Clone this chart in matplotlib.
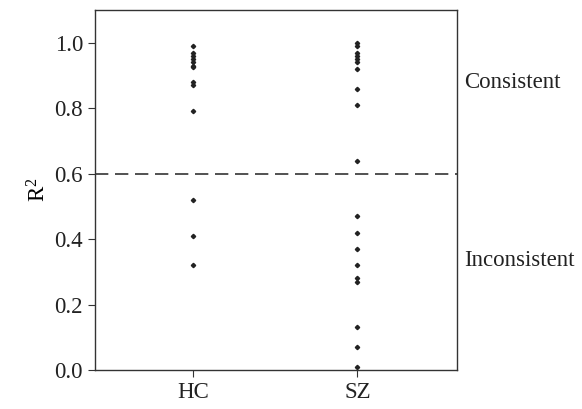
import matplotlib
matplotlib.use("Agg")
import matplotlib.pyplot as plt

categories = ["HC", "SZ"]
hc_values = [0.99, 0.97, 0.96, 0.95, 0.94, 0.93, 0.925, 0.88, 0.87, 0.79, 0.52, 0.41, 0.32]
sz_values = [1.0, 0.99, 0.97, 0.96, 0.95, 0.94, 0.92, 0.86, 0.81, 0.64,
             0.47, 0.42, 0.37, 0.32, 0.28, 0.27, 0.13, 0.07, 0.01]
threshold = 0.6
yticks = [0.0, 0.2, 0.4, 0.6, 0.8, 1.0]

plt.rcParams['font.family'] = ['Liberation Serif', 'DejaVu Serif']
plt.rcParams['mathtext.fontset'] = 'custom'
plt.rcParams['mathtext.rm'] = 'Liberation Serif'
plt.rcParams['mathtext.it'] = 'Liberation Serif:italic'
fig = plt.figure(figsize=(5.82, 4.09), dpi=100)
ax = fig.add_axes([0.163, 0.0954, 0.622, 0.880])

for i, vals in enumerate([hc_values, sz_values], start=1):
    ax.plot([i] * len(vals), vals, linestyle='none', marker='D', ms=2.2,
            color='#222222', mec='#222222')

ax.axhline(threshold, color='#333333', lw=1.2, ls=(0, (8, 4)))
ax.set_xlim(0.405, 2.605)
ax.set_ylim(0, 1.1)
ax.set_xticks([1, 2])
ax.set_xticklabels(categories, fontsize=16.5)
ax.set_yticks(yticks)
ax.set_yticklabels([f"{t:.1f}" for t in yticks], fontsize=16.5)
ax.set_ylabel(r"R$\mathrm{^2}$", fontsize=16.5, labelpad=3)
for s in ax.spines.values():
    s.set_color('#333333')
    s.set_linewidth(1.0)
ax.tick_params(direction='out', length=5, color='#333333', labelcolor='#222222')

ax.text(1.02, 0.88 / 1.1, "Consistent", transform=ax.transAxes, fontsize=16.5,
        va='center', ha='left', color='#222222')
ax.text(1.02, 0.335 / 1.1, "Inconsistent", transform=ax.transAxes, fontsize=16.5,
        va='center', ha='left', color='#222222')

fig.savefig("out.png", dpi=100)
